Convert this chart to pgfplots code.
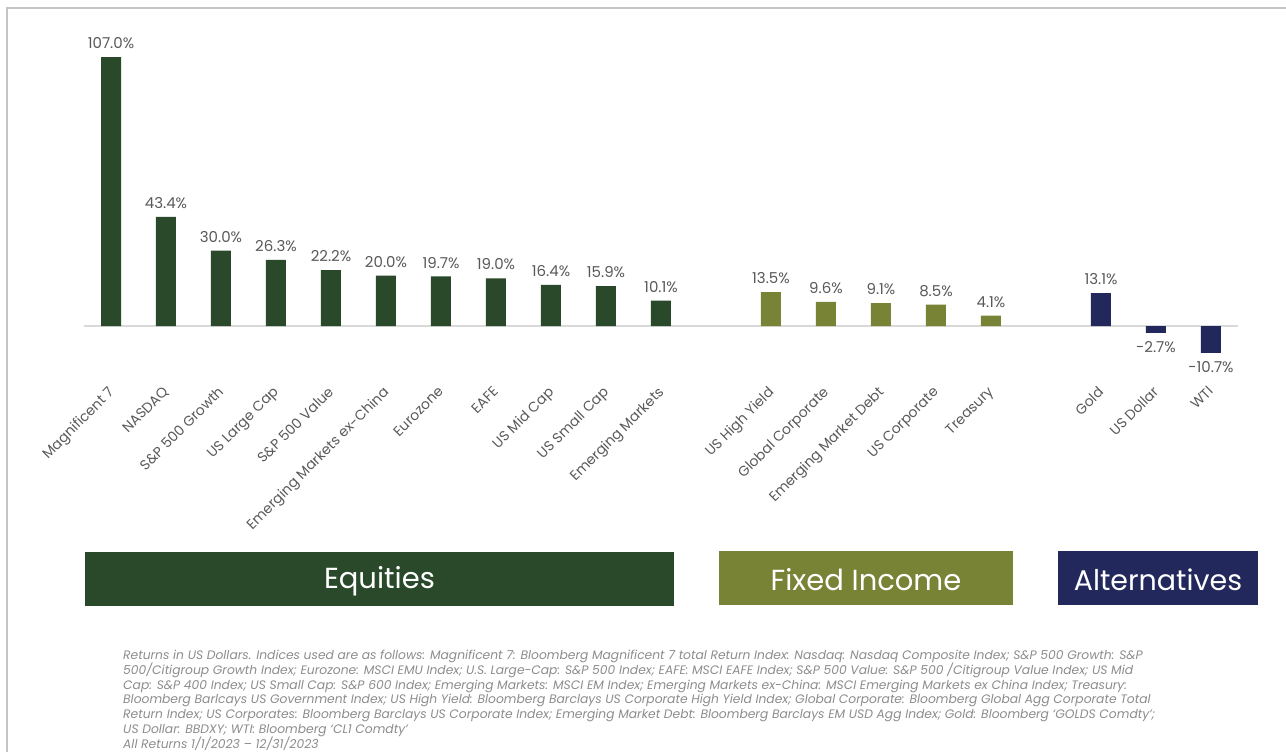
\documentclass[border=0pt]{standalone}
\usepackage{pgfplots}
\pgfplotsset{compat=1.18}
\usepackage{fontspec}
\setmainfont{Poppins}
\definecolor{eq}{HTML}{29492A}
\definecolor{fi}{HTML}{788336}
\definecolor{al}{HTML}{22275C}
\definecolor{lab}{HTML}{595959}
\definecolor{frame}{HTML}{C4C4C4}
\definecolor{foot}{HTML}{8C8C8C}
\newcommand\footfont{\fontsize{12.3}{14.8}\selectfont\lineskiplimit=-20pt\relax\itshape}
\begin{document}
\begin{tikzpicture}
\useasboundingbox (0pt,0pt) rectangle (1286pt,752pt);
\draw[color=frame, line width=2pt] (7pt,0pt) -- (7pt,744pt) -- (1286pt,744pt);
\begin{axis}[
  at={(83.5pt,375.7pt)}, anchor=south west,
  scale only axis, width=1155pt, height=326.8pt,
  xmin=-0.5, xmax=20.5, ymin=-20, ymax=110,
  axis line style={draw=none}, ytick=\empty,
  major tick length=0pt,
  xtick={0,1,2,3,4,5,6,7,8,9,10,12,13,14,15,16,18,19,20},
  xticklabels={Magnificent 7,NASDAQ,S\&P 500 Growth,US Large Cap,S\&P 500 Value,Emerging Markets ex-China,Eurozone,EAFE,US Mid Cap,US Small Cap,Emerging Markets,US High Yield,Global Corporate,Emerging Market Debt,US Corporate,Treasury,Gold,US Dollar,WTI},
  xticklabel style={yshift=-9pt, xshift=-4pt, rotate=45, anchor=north east, inner sep=0pt, font=\fontsize{14}{14}\selectfont, text=lab},
  ybar, bar width=20pt, bar shift=0pt,
  nodes near coords={\pgfmathprintnumber[fixed,fixed zerofill,precision=1,assume math mode=true]{\pgfplotspointmeta}\%},
  every node near coord/.append style={font=\fontsize{15}{15}\selectfont, text=lab, inner sep=8pt},
  clip=false,
]
\draw[color=black!15, line width=1.2pt] (axis cs:-0.5,0) -- (axis cs:20.5,0);
\addplot[fill=eq, draw=none] coordinates {(0,107.0) (1,43.4) (2,30.0) (3,26.3) (4,22.2) (5,20.0) (6,19.7) (7,19.0) (8,16.4) (9,15.9) (10,10.1)};
\addplot[fill=fi, draw=none] coordinates {(12,13.5) (13,9.6) (14,9.1) (15,8.5) (16,4.1)};
\addplot[fill=al, draw=none] coordinates {(18,13.1) (19,-2.7) (20,-10.7)};
\end{axis}
\fill[eq] (85pt,146pt) rectangle (674pt,200pt);
\node[text=white, font=\fontsize{29}{29}\selectfont] at (379.5pt,171pt) {Equities};
\fill[fi] (719pt,147pt) rectangle (1013pt,201pt);
\node[text=white, font=\fontsize{29}{29}\selectfont] at (866pt,172pt) {Fixed Income};
\fill[al] (1058pt,147pt) rectangle (1258pt,201pt);
\node[text=white, font=\fontsize{28.5}{28.5}\selectfont] at (1158pt,172pt) {Alternatives};
\node[anchor=north west, inner sep=0pt, align=left, text=foot, font=\footfont] at (123pt,102pt) {Returns in US Dollars. Indices used are as follows: Magnificent 7: Bloomberg Magnificent 7 total Return Index: Nasdaq: Nasdaq Composite Index; S\&P 500 Growth: S\&P\\
500/Citigroup Growth Index; Eurozone: MSCI EMU Index; U.S. Large-Cap: S\&P 500 Index; EAFE: MSCI EAFE Index; S\&P 500 Value: S\&P 500 /Citigroup Value Index; US Mid\\
Cap: S\&P 400 Index; US Small Cap: S\&P 600 Index; Emerging Markets: MSCI EM Index; Emerging Markets ex-China: MSCI Emerging Markets ex China Index; Treasury:\\
Bloomberg Barlcays US Government Index; US High Yield: Bloomberg Barclays US Corporate High Yield Index; Global Corporate: Bloomberg Global Agg Corporate Total\\
Return Index; US Corporates: Bloomberg Barclays US Corporate Index; Emerging Market Debt: Bloomberg Barclays EM USD Agg Index; Gold: Bloomberg ‘GOLDS Comdty’;\\
US Dollar: BBDXY; WTI: Bloomberg ‘CL1 Comdty’\\
All Returns 1/1/2023 – 12/31/2023};
\end{tikzpicture}
\end{document}
